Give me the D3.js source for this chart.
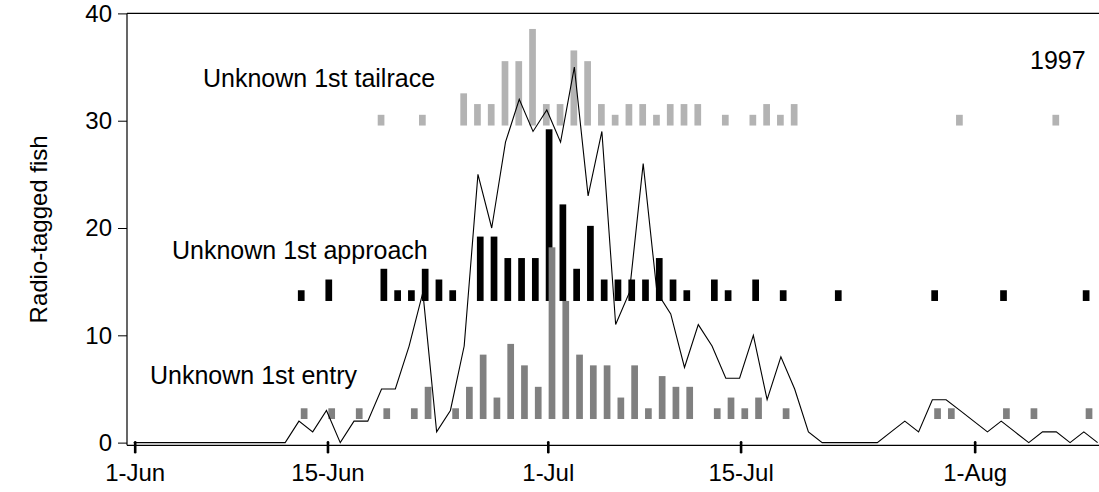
<!DOCTYPE html>
<html>
<head>
<meta charset="utf-8">
<script src="https://cdn.jsdelivr.net/npm/d3@7"></script>
<style>
    body { margin: 0; background: #fff; }
    svg { display: block; font-family: 'Liberation Sans', Arial, sans-serif; }
</style>
</head>
<body>
<div id="viz"></div>
<script>
// Daily counts, 1-Jun-1997 .. 10-Aug-1997 (71 days)
const startDate = new Date(1997, 5, 1);
const endDate = new Date(1997, 7, 10);

// Black line: all radio-tagged fish per day
const totalFish = [
    0, 0, 0, 0, 0, 0, 0, 0, 0, 0, 0, 0, 2, 1, 3, 0, 2, 2, 5, 5, 9, 14, 1, 3, 9, 25, 20, 28, 32, 29,
    31, 28, 35, 23, 29, 11, 14, 26, 14, 12, 7, 11, 9, 6, 6, 10, 4, 8, 5, 1, 0, 0, 0, 0, 0, 1, 2, 1, 4, 4,
    3, 2, 1, 2, 1, 0, 1, 1, 0, 1, 0
];

// Bars: unknown 1st detections (counts), same 71 days
const tailraceCounts = [
    0, 0, 0, 0, 0, 0, 0, 0, 0, 0, 0, 0, 0, 0, 0, 0, 0, 0, 1, 0, 0, 1, 0, 0, 3, 2, 2, 6, 6, 9,
    2, 2, 7, 6, 2, 1, 2, 2, 1, 2, 2, 2, 0, 1, 0, 1, 2, 1, 2, 0, 0, 0, 0, 0, 0, 0, 0, 0, 0, 0,
    1, 0, 0, 0, 0, 0, 0, 1, 0, 0, 0
];
const approachCounts = [
    0, 0, 0, 0, 0, 0, 0, 0, 0, 0, 0, 0, 1, 0, 2, 0, 0, 0, 3, 1, 1, 3, 2, 1, 0, 6, 6, 4, 4, 4,
    16, 9, 3, 7, 2, 2, 2, 2, 4, 2, 1, 0, 2, 1, 0, 2, 0, 1, 0, 0, 0, 1, 0, 0, 0, 0, 0, 0, 1, 0,
    0, 0, 0, 1, 0, 0, 0, 0, 0, 1, 0
];
const entryCounts = [
    0, 0, 0, 0, 0, 0, 0, 0, 0, 0, 0, 0, 1, 0, 1, 0, 1, 0, 1, 0, 1, 3, 0, 1, 3, 6, 2, 7, 5, 3,
    16, 11, 6, 5, 5, 2, 5, 1, 4, 3, 3, 0, 1, 2, 1, 2, 0, 1, 0, 0, 0, 0, 0, 0, 0, 0, 0, 0, 1, 1,
    0, 0, 0, 1, 0, 1, 0, 0, 0, 1, 0
];

// Each bar series sits on its own baseline (axis units)
const seriesNames = ['Unknown 1st tailrace', 'Unknown 1st approach', 'Unknown 1st entry'];
const seriesBase = [29.55, 13.2, 2.2];

const yTicks = [0, 10, 20, 30, 40];
const xTickDates = [new Date(1997, 5, 1), new Date(1997, 5, 15), new Date(1997, 6, 1), new Date(1997, 6, 15), new Date(1997, 7, 1)];
const yearLabel = '1997';
const yTitle = 'Radio-tagged fish';

const width = 1099;
const height = 492;
const plotLeft = 127;
const plotTop = 13.4;
const plotBottom = 445.3;

const svg = d3.select('#viz')
    .append('svg')
    .attr('width', width)
    .attr('height', height);

const dates = totalFish.map((_, i) => d3.timeDay.offset(startDate, i));

const xScale = d3.scaleTime()
    .domain([startDate, endDate])
    .range([134.7, 1098.6]);

const yScale = d3.scaleLinear()
    .domain([-0.25, 40])
    .range([plotBottom, plotTop]);

// Bars (tailrace, approach, entry drawn in that order, slightly offset like Excel clusters)
const barWidth = 6.7;
const barOffsets = [-1.5, 1.3, 4.2];
const barColors = ['#b3b3b3', '#000000', '#808080'];
const allCounts = [tailraceCounts, approachCounts, entryCounts];

allCounts.forEach((counts, s) => {
    const rows = counts.map((c, i) => ({ date: dates[i], count: c })).filter(r => r.count > 0);
    svg.append('g')
        .selectAll('rect')
        .data(rows)
        .enter()
        .append('rect')
        .attr('x', d => xScale(d.date) + barOffsets[s] - barWidth / 2)
        .attr('y', d => yScale(seriesBase[s] + d.count))
        .attr('width', barWidth)
        .attr('height', d => yScale(seriesBase[s]) - yScale(seriesBase[s] + d.count))
        .attr('fill', barColors[s]);
});

// Frame: left axis, top border, bottom axis
svg.append('line')
    .attr('x1', plotLeft).attr('x2', plotLeft)
    .attr('y1', plotTop).attr('y2', plotBottom)
    .attr('stroke', '#000').attr('stroke-width', 1.2);
svg.append('line')
    .attr('x1', plotLeft).attr('x2', width)
    .attr('y1', plotTop).attr('y2', plotTop)
    .attr('stroke', '#000').attr('stroke-width', 1.2);
svg.append('line')
    .attr('x1', plotLeft).attr('x2', width)
    .attr('y1', plotBottom).attr('y2', plotBottom)
    .attr('stroke', '#000').attr('stroke-width', 1.2);

// Y axis
const yAxis = svg.append('g')
    .attr('transform', `translate(${plotLeft},0)`)
    .call(d3.axisLeft(yScale).tickValues(yTicks).tickSize(9).tickPadding(6));
yAxis.select('.domain').remove();
yAxis.selectAll('line').attr('stroke', '#000');
yAxis.selectAll('text')
    .attr('fill', '#000')
    .style('font-size', '24px')
    .style('font-family', "'Liberation Sans', Arial, sans-serif");

// X axis: short thick ticks crossing the bottom line
const xAxis = svg.append('g')
    .attr('transform', `translate(0,${plotBottom})`)
    .call(d3.axisBottom(xScale).tickValues(xTickDates).tickSize(7).tickPadding(12).tickFormat(d3.timeFormat('%-d-%b')));
xAxis.select('.domain').remove();
xAxis.selectAll('line')
    .attr('y1', -3)
    .attr('stroke', '#000')
    .attr('stroke-width', 2.6)
    .attr('stroke-linecap', 'round');
xAxis.selectAll('text')
    .attr('fill', '#000')
    .style('font-size', '24px')
    .style('font-family', "'Liberation Sans', Arial, sans-serif");

// Total fish line
const line = d3.line()
    .x((d, i) => xScale(dates[i]) - 1)
    .y(d => yScale(d));

svg.append('path')
    .datum(totalFish)
    .attr('d', line)
    .attr('fill', 'none')
    .attr('stroke', '#000')
    .attr('stroke-width', 1.1);

// Series labels
const labelPos = [[203, 87], [172, 259], [150, 384]];
seriesNames.forEach((name, i) => {
    svg.append('text')
        .attr('x', labelPos[i][0])
        .attr('y', labelPos[i][1])
        .style('font-size', '25px')
        .text(name);
});

svg.append('text')
    .attr('x', 1030)
    .attr('y', 69)
    .style('font-size', '25px')
    .text(yearLabel);

svg.append('text')
    .attr('transform', `translate(47,${(plotTop + plotBottom) / 2}) rotate(-90)`)
    .attr('text-anchor', 'middle')
    .style('font-size', '24px')
    .text(yTitle);
</script>
</body>
</html>
